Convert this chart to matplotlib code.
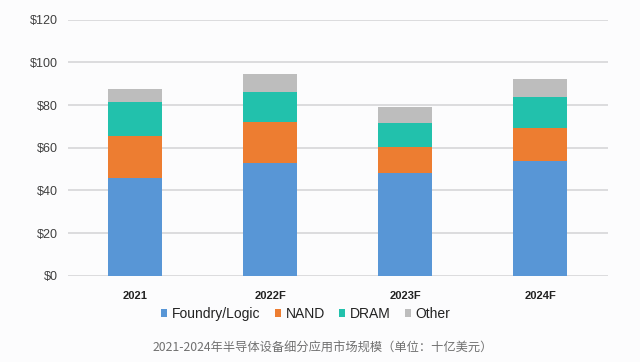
import matplotlib
matplotlib.use("Agg")
import matplotlib.pyplot as plt
from matplotlib.patches import Patch
import numpy as np

categories = ["2021", "2022F", "2023F", "2024F"]
foundry = [45.7, 52.7, 48.3, 53.9]
nand = [19.8, 19.3, 12.2, 15.3]
dram = [15.7, 14.1, 10.9, 14.4]
other = [6.1, 8.4, 7.5, 8.4]
series_names = ["Foundry/Logic", "NAND", "DRAM", "Other"]
colors = ["#5896D6", "#ED7D31", "#22C1AC", "#BDBDBD"]
yticks = [0, 20, 40, 60, 80, 100, 120]
caption = "2021-2024年半导体设备细分应用市场规模（单位：十亿美元）"

plt.rcParams['font.family'] = ['Noto Sans CJK SC', 'DejaVu Sans']

fig = plt.figure(figsize=(6.4, 3.62), dpi=100, facecolor="#FCFCFD")
ax = fig.add_axes([0.106, 0.2376, 0.844, 0.7085])
ax.set_facecolor("#FCFCFD")

x = np.arange(len(categories))
bottom = np.zeros(len(categories))
for vals, c in zip([foundry, nand, dram, other], colors):
    ax.bar(x, vals, width=0.4, bottom=bottom, color=c, zorder=3)
    bottom += np.array(vals)

ax.set_xlim(-0.5, len(categories) - 0.5)
ax.set_ylim(0, 120)
ax.set_yticks(yticks)
ax.set_yticklabels([f"${v}" for v in yticks], fontsize=9, color="#404040", family=['Liberation Sans', 'DejaVu Sans'])
ax.set_xticks(x)
ax.set_xticklabels(categories, fontsize=8, fontweight="bold", color="#222222", family=['Liberation Sans', 'DejaVu Sans'])
ax.tick_params(axis="both", length=0)
ax.tick_params(axis="y", pad=7)
ax.tick_params(axis="x", pad=11)
ax.yaxis.grid(True, color="#D6D6D8", linewidth=1.2, zorder=0)
for s in ax.spines.values():
    s.set_visible(False)

handles = [Patch(facecolor=c, edgecolor="none") for c in colors]
leg = fig.legend(handles, series_names, loc="center", bbox_to_anchor=(0.478, 1 - 314 / 362), ncol=4,
                 frameon=False, handlelength=0.45, handleheight=0.45, handletextpad=0.35,
                 columnspacing=1.0, prop={'family': ['Liberation Sans', 'DejaVu Sans'], 'size': 10})
for t in leg.get_texts():
    t.set_color("#222222")

fig.text(0.505, 1 - 348 / 362, caption, ha="center", va="center", fontsize=8.8, color="#707070")

fig.savefig("out.png", dpi=100, facecolor=fig.get_facecolor())
